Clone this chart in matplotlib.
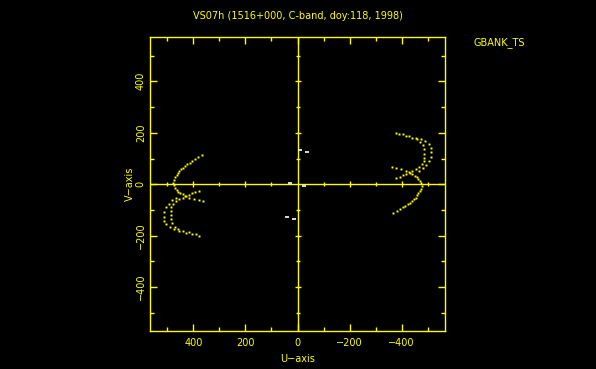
import matplotlib
matplotlib.use("Agg")
import matplotlib.pyplot as plt
import numpy as np

# ---- data (left-half tracks, U positive; conjugates are the mirrored points) ----
trackA_u = [369, 381, 393, 404, 414, 423, 432, 442, 448, 455, 460, 465, 470, 474, 477,
            475, 472, 465, 458, 450, 442, 432, 417, 397, 378, 365]
trackA_v = [113, 105, 97, 90, 84, 78, 71, 65, 58, 52, 43, 35, 27, 17, 6,
            -4, -14, -22, -29, -34, -38, -45, -53, -58, -62, -66]
trackB_u = [378, 393, 406, 417, 429, 442, 455, 468, 478, 485, 487, 488, 486, 481,
            470, 458, 442, 417, 391]
trackB_v = [-25, -29, -35, -41, -46, -52, -58, -66, -77, -90, -103, -119, -136, -151,
            -165, -175, -181, -187, -194]
trackC_u = [468, 482, 495, 506, 513, 515, 512, 504, 491, 474, 455, 429, 404, 378]
trackC_v = [-52, -62, -75, -89, -106, -126, -142, -155, -167, -175, -181, -188, -194, -201]

white_u = [-9, -38, 29, -26, 42, 13]
white_v = [133, 127, 6, -8, -128, -135]

title = "VS07h (1516+000, C-band, doy:118, 1998)"
station = "GBANK_TS"
major_ticks = [400, 200, 0, -200, -400]
minor_ticks = [500, 300, 100, -100, -300, -500]

YEL = "#ffff00"
W, H = 596, 369

fig = plt.figure(figsize=(W / 100, H / 100), dpi=100, facecolor="black")
ax = fig.add_axes([150 / W, (H - 331) / H, 295 / W, 294 / H])
ax.set_facecolor("black")
ax.set_xlim(567, -567)
ax.set_ylim(-570, 572)

for s in ax.spines.values():
    s.set_color(YEL)
    s.set_linewidth(1.0)

ax.set_xticks(major_ticks)
ax.set_xticks(minor_ticks, minor=True)
ax.set_yticks(major_ticks)
ax.set_yticks(minor_ticks, minor=True)
ax.set_xticklabels([str(t).replace("-", "\u2212") for t in major_ticks])
ax.set_yticklabels([str(t).replace("-", "\u2212") for t in major_ticks],
                   rotation=90, va="center")
ax.tick_params(which="both", direction="in", colors=YEL, top=True, right=True,
               labelsize=7, width=1.0)
ax.tick_params(which="major", length=5)
ax.tick_params(which="minor", length=3)
ax.tick_params(axis="x", pad=5)
ax.tick_params(axis="y", pad=3)

# crosshair with ticks
ax.axhline(0, color=YEL, lw=1.0, zorder=1)
ax.axvline(0, color=YEL, lw=1.0, zorder=1)
maj_nz = [t for t in major_ticks if t != 0]
ax.plot(maj_nz, [0] * len(maj_nz), ls="none", marker="|", ms=5, mew=1.0, color=YEL)
ax.plot(minor_ticks, [0] * len(minor_ticks), ls="none", marker="|", ms=3.2, mew=1.0, color=YEL)
ax.plot([0] * len(maj_nz), maj_nz, ls="none", marker="_", ms=5, mew=1.0, color=YEL)
ax.plot([0] * len(minor_ticks), minor_ticks, ls="none", marker="_", ms=3.2, mew=1.0, color=YEL)

# uv tracks and their conjugates
for tu, tv in [(trackA_u, trackA_v), (trackB_u, trackB_v), (trackC_u, trackC_v)]:
    u = np.array(tu, float)
    v = np.array(tv, float)
    ax.plot(u, v, ls="none", marker="s", ms=1.4, mew=0, color=YEL, zorder=3)
    ax.plot(-u, -v, ls="none", marker="s", ms=1.4, mew=0, color=YEL, zorder=3)

ax.plot(white_u, white_v, ls="none", marker="_", ms=2.4, mew=1.2, color="white", zorder=3)

ax.set_xlabel("U\u2212axis", color=YEL, fontsize=7, labelpad=4)
ax.set_ylabel("V\u2212axis", color=YEL, fontsize=7, labelpad=1)

fig.text(298 / W, 1 - 16 / H, title, color=YEL, fontsize=7, ha="center", va="center")
fig.text(474 / W, 1 - 43 / H, station, color=YEL, fontsize=7, ha="left", va="center")

fig.savefig("out.png", dpi=100, facecolor="black")
